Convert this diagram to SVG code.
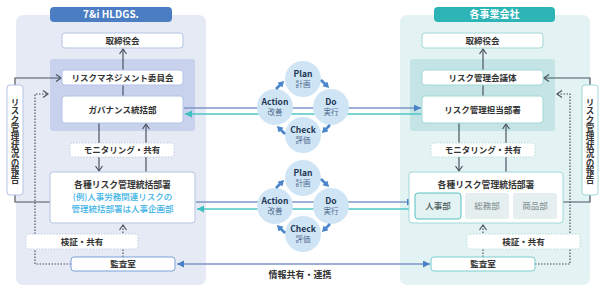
<svg xmlns="http://www.w3.org/2000/svg" width="604" height="291" viewBox="0 0 604 291">
<defs>
<style>
text{font-family:"Noto Sans CJK JP","Noto Sans",sans-serif;}
.lbl{font-size:8.5px;font-weight:700;fill:#333;text-anchor:middle;}
.hdr{font-size:10px;font-weight:700;fill:#fff;text-anchor:middle;}
.boxL{fill:#fff;stroke:#b3c5e5;stroke-width:1;}
.boxR{fill:#fff;stroke:#a3d8d8;stroke-width:1;}
.dashL{fill:#fff;stroke:#c0cbe0;stroke-width:1;stroke-dasharray:1.5 1.5;}
.dashR{fill:#fff;stroke:#b5dcdc;stroke-width:1;stroke-dasharray:1.5 1.5;}
.ln{fill:none;stroke:#4a5260;stroke-width:1.2;}
.dot{fill:none;stroke:#4a5260;stroke-width:1.2;stroke-dasharray:1.5 1.5;}
.gl{fill:none;stroke:#7d95c6;stroke-width:1.3;}
.tl{fill:none;stroke:#4fc6c6;stroke-width:1.3;}
.cyc{fill:#cfe5f6;}
.en{font-size:8.5px;font-weight:700;fill:#1e3553;text-anchor:middle;}
.jp{font-size:7.5px;fill:#4f6b8e;text-anchor:middle;}
.carr{fill:none;stroke:#4a86c9;stroke-width:2.6;}
.vt{font-size:8.6px;font-weight:700;fill:#333;text-anchor:middle;writing-mode:vertical-rl;text-orientation:upright;}
</style>
<marker id="chev" markerUnits="userSpaceOnUse" markerWidth="10" markerHeight="10" refX="6" refY="4" orient="auto">
<path d="M1,0.5 L6,4 L1,7.5" fill="none" stroke="#4a5260" stroke-width="1.2"/>
</marker>
<marker id="btri" markerUnits="userSpaceOnUse" markerWidth="10" markerHeight="10" refX="7" refY="3.5" orient="auto">
<path d="M0,0 L7,3.5 L0,7 Z" fill="#4a80c8"/>
</marker>
<marker id="btriS" markerUnits="userSpaceOnUse" markerWidth="10" markerHeight="10" refX="7" refY="3.5" orient="auto-start-reverse">
<path d="M0,0 L7,3.5 L0,7 Z" fill="#4a80c8"/>
</marker>
<marker id="ttri" markerUnits="userSpaceOnUse" markerWidth="10" markerHeight="10" refX="7" refY="3.5" orient="auto">
<path d="M0,0 L7,3.5 L0,7 Z" fill="#3cc0c0"/>
</marker>
<marker id="ctri" markerUnits="userSpaceOnUse" markerWidth="10" markerHeight="10" refX="3" refY="3.5" orient="auto">
<path d="M0,0 L6,3.5 L0,7 Z" fill="#4a86c9"/>
</marker>
</defs>

<!-- panels -->
<g id="panel-left">
<rect x="16" y="15" width="190" height="270" rx="7" fill="#e6eaf5"/>
<rect x="50" y="59" width="145" height="72" rx="3" fill="#c8d2ec"/>
</g>
<g id="panel-right">
<rect x="400" y="15" width="190" height="270" rx="7" fill="#e3f2f2"/>
<rect x="410" y="59" width="145" height="72" rx="3" fill="#c5e4e5"/>
</g>

<!-- connectors -->
<g id="connectors">
<path class="ln" d="M123,70 L123,49" marker-end="url(#chev)"/>
<path class="ln" d="M123,96 L123,85"/>
<path class="ln" d="M15,85 L15,78 L61,78" marker-end="url(#chev)"/>
<path class="dot" d="M71,264 L35,264 L35,94 L48,94" marker-end="url(#chev)"/>
<path class="ln" d="M99,123 L99,171" marker-end="url(#chev)"/>
<path class="ln" d="M146,172 L146,124" marker-end="url(#chev)"/>
<path class="ln" d="M15,195 L15,202 L50,202"/>
<path class="dot" d="M123,257 L123,225" marker-end="url(#chev)"/>

<path class="ln" d="M483,70 L483,49" marker-end="url(#chev)"/>
<path class="ln" d="M483,96 L483,85"/>
<path class="ln" d="M590,85 L590,78 L544,78" marker-end="url(#chev)"/>
<path class="dot" d="M535,264 L570,264 L570,94 L557,94" marker-end="url(#chev)"/>
<path class="ln" d="M459,123 L459,171" marker-end="url(#chev)"/>
<path class="ln" d="M506,172 L506,124" marker-end="url(#chev)"/>
<path class="ln" d="M590,195 L590,202 L563,202"/>
<path class="dot" d="M483,257 L483,225" marker-end="url(#chev)"/>

<path class="gl" d="M184,108 L421,108" marker-end="url(#btri)"/>
<path class="tl" d="M421,114 L185,114" marker-end="url(#ttri)"/>
<path class="gl" d="M196,202 L414,202" marker-end="url(#btri)"/>
<path class="tl" d="M415,209 L197,209" marker-end="url(#ttri)"/>
<path class="gl" d="M177,264 L430,264" marker-start="url(#btriS)" marker-end="url(#btri)"/>
<text x="300" y="278" class="lbl" style="font-size:9px">情報共有・連携</text>
</g>

<!-- left nodes -->
<g id="left-header"><rect x="50" y="7" width="122" height="15" rx="4" fill="#4b7dc3"/><text x="111" y="18" class="hdr">7&amp;i HLDGS.</text></g>
<g id="left-board"><rect x="62" y="33" width="121" height="15" rx="3" class="boxL"/><text x="122.5" y="43.5" class="lbl">取締役会</text></g>
<g id="left-committee"><rect x="62" y="70" width="121" height="15" rx="3" class="boxL"/><text x="122.5" y="80.5" class="lbl">リスクマネジメント委員会</text></g>
<g id="left-governance"><rect x="62" y="96" width="121" height="27" rx="3" class="boxL"/><text x="122.5" y="112.5" class="lbl">ガバナンス統括部</text></g>
<g id="left-monitoring"><rect x="70" y="143" width="104" height="14" rx="3" class="dashL"/><text x="122" y="153" class="lbl">モニタリング・共有</text></g>
<g id="left-riskdepts"><rect x="50" y="172" width="145" height="51" rx="3" class="boxL"/>
<text x="122.5" y="188" class="lbl" style="font-size:8.8px">各種リスク管理統括部署</text>
<text x="122.5" y="200" class="lbl" style="fill:#3db3e6;font-weight:500">(例)人事労務関連リスクの</text>
<text x="122.5" y="212" class="lbl" style="fill:#3db3e6;font-weight:500">管理統括部署は人事企画部</text></g>
<g id="left-verify"><rect x="26" y="234" width="112" height="15" rx="3" class="dashL"/><text x="82" y="244.5" class="lbl">検証・共有</text></g>
<g id="left-audit"><rect x="71" y="257" width="104" height="14" rx="3" fill="#fff" stroke="#7ba2d8"/><text x="123" y="267" class="lbl">監査室</text></g>
<g id="left-report"><rect x="7" y="85" width="16" height="110" rx="3" class="boxL"/>
<text class="vt" x="15" y="141">リスク管理状況の報告</text></g>

<!-- right nodes -->
<g id="right-header"><rect x="434" y="7" width="121" height="15" rx="4" fill="#2cb4b6"/><text x="494.5" y="18" class="hdr">各事業会社</text></g>
<g id="right-board"><rect x="422" y="33" width="121" height="15" rx="3" class="boxR"/><text x="482.5" y="43.5" class="lbl">取締役会</text></g>
<g id="right-council"><rect x="422" y="70" width="121" height="15" rx="3" class="boxR"/><text x="482.5" y="80.5" class="lbl">リスク管理会議体</text></g>
<g id="right-riskdept"><rect x="422" y="96" width="121" height="27" rx="3" class="boxR"/><text x="482.5" y="112.5" class="lbl">リスク管理担当部署</text></g>
<g id="right-monitoring"><rect x="431" y="143" width="104" height="14" rx="3" class="dashR"/><text x="483" y="153" class="lbl">モニタリング・共有</text></g>
<g id="right-riskdepts"><rect x="409" y="172" width="154" height="51" rx="3" class="boxR"/>
<text x="486" y="188" class="lbl" style="font-size:8.8px">各種リスク管理統括部署</text></g>
<g id="right-hr"><rect x="415" y="193" width="46" height="26" rx="3" fill="#e3f2f2" stroke="#57c1c2"/><text x="438" y="209" class="lbl" style="fill:#4d5c5c;font-weight:500">人事部</text></g>
<g id="right-ga"><rect x="465" y="193" width="44" height="26" rx="3" fill="#e6efef"/><text x="487" y="209" class="lbl" style="fill:#8b9b9b;font-weight:500">総務部</text></g>
<g id="right-prod"><rect x="513" y="193" width="44" height="26" rx="3" fill="#e6efef"/><text x="535" y="209" class="lbl" style="fill:#8b9b9b;font-weight:500">商品部</text></g>
<g id="right-verify"><rect x="467" y="234" width="113" height="15" rx="3" class="dashR"/><text x="523.5" y="244.5" class="lbl">検証・共有</text></g>
<g id="right-audit"><rect x="431" y="257" width="104" height="14" rx="3" fill="#fff" stroke="#7ccfd0"/><text x="483" y="267" class="lbl">監査室</text></g>
<g id="right-report"><rect x="582" y="85" width="16" height="110" rx="3" class="boxR"/>
<text class="vt" x="590" y="141">リスク管理状況の報告</text></g>

<!-- PDCA cycle 1 -->
<g id="pdca-1">
<circle cx="303" cy="79" r="18" class="cyc"/>
<circle cx="275" cy="107" r="18" class="cyc"/>
<circle cx="331" cy="107" r="18" class="cyc"/>
<circle cx="303" cy="135" r="18" class="cyc"/>
<text x="303" y="77" class="en">Plan</text><text x="303" y="87" class="jp">計画</text>
<text x="275" y="105" class="en">Action</text><text x="275" y="115" class="jp">改善</text>
<text x="331" y="105" class="en">Do</text><text x="331" y="115" class="jp">実行</text>
<text x="303" y="133" class="en">Check</text><text x="303" y="143" class="jp">評価</text>
<path class="carr" d="M276,89 L282,83" marker-end="url(#ctri)"/>
<path class="carr" d="M321,80 L327,86" marker-end="url(#ctri)"/>
<path class="carr" d="M330,125 L324,131" marker-end="url(#ctri)"/>
<path class="carr" d="M285,134 L279,128" marker-end="url(#ctri)"/>
</g>

<!-- PDCA cycle 2 -->
<g id="pdca-2">
<circle cx="303" cy="178" r="18" class="cyc"/>
<circle cx="275" cy="206" r="18" class="cyc"/>
<circle cx="331" cy="206" r="18" class="cyc"/>
<circle cx="303" cy="234" r="18" class="cyc"/>
<text x="303" y="176" class="en">Plan</text><text x="303" y="186" class="jp">計画</text>
<text x="275" y="204" class="en">Action</text><text x="275" y="214" class="jp">改善</text>
<text x="331" y="204" class="en">Do</text><text x="331" y="214" class="jp">実行</text>
<text x="303" y="232" class="en">Check</text><text x="303" y="242" class="jp">評価</text>
<path class="carr" d="M276,188 L282,182" marker-end="url(#ctri)"/>
<path class="carr" d="M321,179 L327,185" marker-end="url(#ctri)"/>
<path class="carr" d="M330,224 L324,230" marker-end="url(#ctri)"/>
<path class="carr" d="M285,233 L279,227" marker-end="url(#ctri)"/>
</g>
</svg>
